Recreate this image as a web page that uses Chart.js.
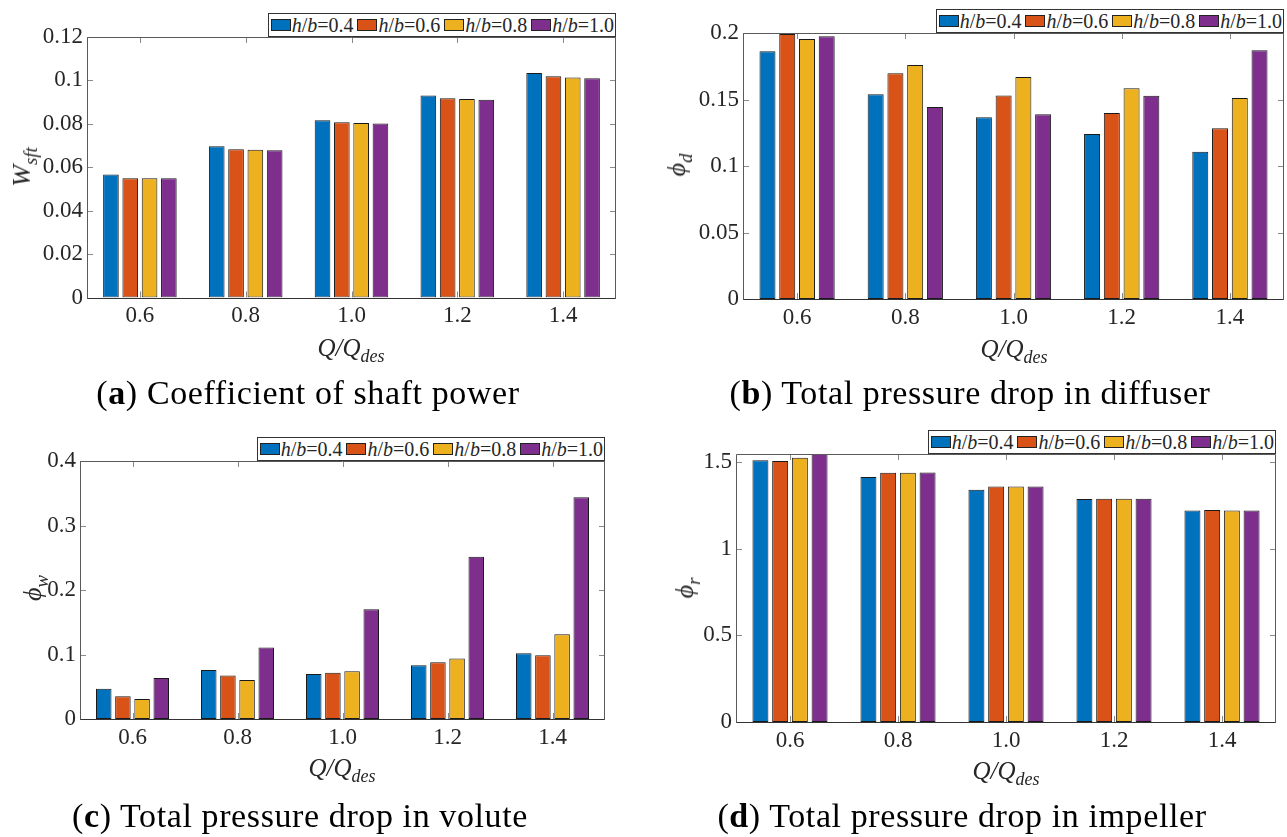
<!DOCTYPE html>
<html>
<head>
<meta charset="utf-8">
<script src="https://cdn.jsdelivr.net/npm/chart.js@4.4.1/dist/chart.umd.min.js"></script>
<style>
  body { margin: 0; background: #fff; width: 1287px; height: 837px; position: relative; overflow: hidden;
         font-family: "Liberation Serif", "Times New Roman", serif; color: #262626; }
  canvas { position: absolute; }
  .legend { position: absolute; display: flex; align-items: center; height: 24px; box-sizing: border-box;
            border: 1px solid #333; background: #fff; padding: 0 0 0 2px; font-size: 20px; white-space: nowrap; }
  .legend .item { display: flex; align-items: center; margin-right: 4px; }
  .legend .item:last-child { margin-right: 1px; }
  .legend .sw { width: 20px; height: 12px; border: 1px solid #222; box-sizing: border-box; margin-right: 1px; }
  .ytitle { position: absolute; transform: translate(-50%, -50%) rotate(-90deg); white-space: nowrap;
            font-style: italic; font-size: 26px; line-height: 1; }
  .xtitle { position: absolute; transform: translate(-50%, -50%); white-space: nowrap;
            font-style: italic; font-size: 25px; line-height: 1; }
  sub { font-size: 0.72em; vertical-align: -0.35em; line-height: 0; }
  .caption { position: absolute; transform: translateX(-50%); white-space: nowrap; color: #000;
             font-size: 34px; line-height: 34px; letter-spacing: 0.6px; }
</style>
</head>
<body>
<canvas id="ca" width="640" height="420" style="left:0;top:0"></canvas>
<canvas id="cb" width="647" height="420" style="left:640px;top:0"></canvas>
<canvas id="cc" width="640" height="417" style="left:0;top:420px"></canvas>
<canvas id="cd" width="647" height="417" style="left:640px;top:420px"></canvas>

<div class="legend" id="la" style="right:671px;top:13px"></div>
<div class="legend" id="lb" style="right:3px;top:9px"></div>
<div class="legend" id="lc" style="right:682px;top:437px"></div>
<div class="legend" id="ld" style="right:11px;top:430px"></div>

<div class="ytitle" style="left:22px;top:167px">W<sub>sft</sub></div>
<div class="ytitle" style="left:677px;top:165px">ϕ<sub>d</sub></div>
<div class="ytitle" style="left:33px;top:588px">ϕ<sub>w</sub></div>
<div class="ytitle" style="left:685px;top:588px">ϕ<sub>r</sub></div>

<div class="xtitle" style="left:351px;top:347px">Q/Q<sub>des</sub></div>
<div class="xtitle" style="left:1014px;top:348px">Q/Q<sub>des</sub></div>
<div class="xtitle" style="left:342px;top:767px">Q/Q<sub>des</sub></div>
<div class="xtitle" style="left:1006px;top:770px">Q/Q<sub>des</sub></div>

<div class="caption" style="left:308px;top:376px">(<b>a</b>) Coefficient of shaft power</div>
<div class="caption" style="left:970px;top:376px">(<b>b</b>) Total pressure drop in diffuser</div>
<div class="caption" style="left:300px;top:799px">(<b>c</b>) Total pressure drop in volute</div>
<div class="caption" style="left:962px;top:799px">(<b>d</b>) Total pressure drop in impeller</div>

<script>
// flow rate ratio Q/Qdes and blade height ratio h/b
var flowRatio = ['0.6', '0.8', '1.0', '1.2', '1.4'];
var hbRatio = ['0.4', '0.6', '0.8', '1.0'];
var barColors = ['#0072BD', '#D95319', '#EDB120', '#7E2F8E'];

// shaft power coefficient
var shaft04 = [0.0567, 0.0697, 0.0816, 0.0930, 0.1034];
var shaft06 = [0.0549, 0.0683, 0.0807, 0.0918, 0.1019];
var shaft08 = [0.0549, 0.0681, 0.0804, 0.0914, 0.1014];
var shaft10 = [0.0549, 0.0678, 0.0801, 0.0911, 0.1010];
var shaftTicks = [0, 0.02, 0.04, 0.06, 0.08, 0.1, 0.12];

// diffuser pressure drop
var diff04 = [0.1862, 0.1539, 0.1366, 0.1241, 0.1108];
var diff06 = [0.1992, 0.1697, 0.1531, 0.1398, 0.1283];
var diff08 = [0.1955, 0.1759, 0.1669, 0.1584, 0.1511];
var diff10 = [0.1975, 0.1444, 0.1389, 0.1529, 0.1870];
var diffTicks = [0, 0.05, 0.1, 0.15, 0.2];

// volute pressure drop
var vol04 = [0.0469, 0.0758, 0.0696, 0.0835, 0.1021];
var vol06 = [0.0351, 0.0675, 0.0716, 0.0881, 0.0990];
var vol08 = [0.0309, 0.0603, 0.0742, 0.0938, 0.1314];
var vol10 = [0.0634, 0.1108, 0.1701, 0.2515, 0.3438];
var volTicks = [0, 0.1, 0.2, 0.3, 0.4];

// impeller pressure drop
var imp04 = [1.509, 1.412, 1.339, 1.285, 1.220];
var imp06 = [1.505, 1.437, 1.358, 1.287, 1.222];
var imp08 = [1.524, 1.437, 1.358, 1.287, 1.220];
var imp10 = [1.545, 1.439, 1.358, 1.287, 1.220];
var impTicks = [0, 0.5, 1, 1.5];

var tickFont = { family: '"Liberation Serif", "Times New Roman", serif', size: 23 };

// matlab style box with inward ticks on all four sides
var axesBox = {
  id: 'axesBox',
  beforeDatasetsDraw: function (chart) {
    var a = chart.chartArea, ctx = chart.ctx, xs = chart.scales.x, ys = chart.scales.y;
    ctx.save();
    ctx.strokeStyle = '#8a8a8a';
    ctx.lineWidth = 1;
    ctx.beginPath();
    ys.ticks.forEach(function (t) {
      var y = Math.round(ys.getPixelForValue(t.value)) + 0.5;
      ctx.moveTo(a.left, y); ctx.lineTo(a.left + 6, y);
      ctx.moveTo(a.right, y); ctx.lineTo(a.right - 6, y);
    });
    xs.ticks.forEach(function (t, i) {
      var x = Math.round(xs.getPixelForTick(i)) + 0.5;
      ctx.moveTo(x, a.bottom); ctx.lineTo(x, a.bottom - 6);
      ctx.moveTo(x, a.top); ctx.lineTo(x, a.top + 6);
    });
    ctx.stroke();
    ctx.restore();
  },
  afterDatasetsDraw: function (chart) {
    var a = chart.chartArea, ctx = chart.ctx;
    var l = Math.round(a.left) + 0.5, r = Math.round(a.right) - 0.5;
    var t = Math.round(a.top) + 0.5, b = Math.round(a.bottom) + 0.5;
    ctx.save();
    ctx.lineWidth = 1;
    ctx.strokeStyle = '#5a5a5a';
    ctx.beginPath();
    ctx.moveTo(l, b); ctx.lineTo(l, t); ctx.lineTo(r, t); ctx.lineTo(r, b);
    ctx.stroke();
    ctx.strokeStyle = '#333';
    ctx.beginPath();
    ctx.moveTo(l, b); ctx.lineTo(r, b);
    ctx.stroke();
    ctx.restore();
  }
};

function makeChart(id, series, yMax, yTicks, area) {
  var canvas = document.getElementById(id);
  var W = canvas.width, H = canvas.height, xH = 50;
  var datasets = series.map(function (vals, i) {
    return {
      label: 'h/b=' + hbRatio[i],
      data: vals,
      backgroundColor: barColors[i],
      borderColor: '#1a1a1a',
      borderWidth: 1,
      borderSkipped: false,
      categoryPercentage: 0.73,
      barPercentage: 0.81
    };
  });
  return new Chart(canvas, {
    type: 'bar',
    data: { labels: flowRatio, datasets: datasets },
    options: {
      responsive: false,
      animation: false,
      layout: { padding: { left: 0, top: area.top, right: W - area.right, bottom: H - area.bottom - xH } },
      plugins: { legend: { display: false }, tooltip: { enabled: false } },
      scales: {
        x: {
          grid: { display: false, drawTicks: false },
          border: { display: false },
          ticks: { font: tickFont, color: '#262626', padding: 5, maxRotation: 0 },
          afterFit: function (s) { s.height = xH; }
        },
        y: {
          min: 0,
          max: yMax,
          grid: { display: false, drawTicks: false },
          border: { display: false },
          ticks: {
            font: tickFont, color: '#262626', padding: 4,
            callback: function (v) { return String(+v.toFixed(4)); }
          },
          afterFit: function (s) { s.width = area.left; },
          afterBuildTicks: function (s) { s.ticks = yTicks.map(function (v) { return { value: v }; }); }
        }
      }
    },
    plugins: [axesBox]
  });
}

function makeLegend(id) {
  var html = '';
  hbRatio.forEach(function (r, i) {
    html += '<span class="item"><span class="sw" style="background:' + barColors[i] + '"></span>' +
            '<i>h</i>/<i>b</i>=' + r + '</span>';
  });
  document.getElementById(id).innerHTML = html;
}

makeChart('ca', [shaft04, shaft06, shaft08, shaft10], 0.12, shaftTicks, { left: 87, top: 37, right: 616, bottom: 297.5 });
makeChart('cb', [diff04, diff06, diff08, diff10], 0.2, diffTicks, { left: 103, top: 33, right: 644, bottom: 299 });
makeChart('cc', [vol04, vol06, vol08, vol10], 0.4, volTicks, { left: 80, top: 41, right: 605, bottom: 299 });
makeChart('cd', [imp04, imp06, imp08, imp10], 1.545, impTicks, { left: 96, top: 34, right: 636, bottom: 302 });

['la', 'lb', 'lc', 'ld'].forEach(makeLegend);
</script>
</body>
</html>
